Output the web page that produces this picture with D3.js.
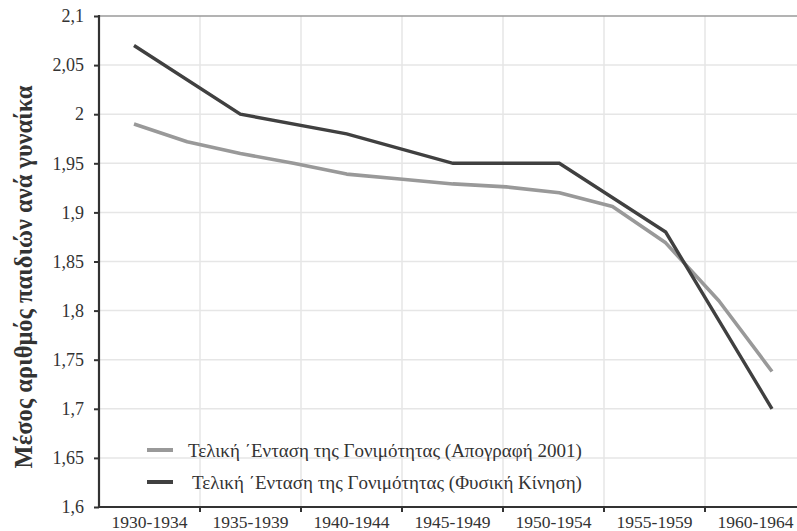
<!DOCTYPE html>
<html>
<head>
<meta charset="utf-8">
<script src="https://cdn.jsdelivr.net/npm/d3@7"></script>
<style>
  body { margin: 0; background: #fff; }
  svg { display: block; font-family: "Liberation Serif", "Times New Roman", "DejaVu Serif", serif; }
</style>
</head>
<body>
<div id="chart"></div>
<script>
// cohort groups on the x axis
var categories = ['1930-1934', '1935-1939', '1940-1944', '1945-1949', '1950-1954', '1955-1959', '1960-1964'];

// natural movement series, one value per cohort group (mid year)
var vitalYears = [1932, 1937, 1942, 1947, 1952, 1957, 1962];
var vitalValues = [2.07, 2.00, 1.98, 1.95, 1.95, 1.88, 1.70];

// census 2001 series, read every half group
var censusYears = [1932, 1934.5, 1937, 1939.5, 1942, 1944.5, 1947, 1949.5, 1952, 1954.5, 1957, 1959.5, 1962];
var censusValues = [1.99, 1.972, 1.96, 1.950, 1.939, 1.934, 1.929, 1.926, 1.920, 1.906, 1.869, 1.810, 1.738];

var yTicks = [1.6, 1.65, 1.7, 1.75, 1.8, 1.85, 1.9, 1.95, 2, 2.05, 2.1];

var seriesNames = [
    'Τελική ΄Ενταση της Γονιμότητας (Απογραφή 2001)',
    'Τελική ΄Ενταση της Γονιμότητας (Φυσική Κίνηση)'
];

var width = 797,
    height = 531;

var plot = { left: 99, right: 806, top: 16, bottom: 507 };
var serif = '"Liberation Serif", "Times New Roman", serif';

var svg = d3.select('#chart').append('svg')
    .attr('width', width)
    .attr('height', height);

var x = d3.scaleBand()
    .domain(categories)
    .range([plot.left, plot.right]);

var xYear = d3.scaleLinear()
    .domain([1932, 1962])
    .range([134, 772]);

var y = d3.scaleLinear()
    .domain([1.6, 2.1])
    .range([plot.bottom, plot.top]);

// grid
var grid = svg.append('g');

grid.selectAll('line.h')
    .data(yTicks.slice(1, -1))
    .enter().append('line')
    .attr('class', 'h')
    .attr('x1', plot.left)
    .attr('x2', plot.right)
    .attr('y1', function(d) { return y(d); })
    .attr('y2', function(d) { return y(d); })
    .attr('stroke', '#e6e6e6')
    .attr('stroke-width', 1.5);

grid.selectAll('line.v')
    .data(categories.slice(1))
    .enter().append('line')
    .attr('class', 'v')
    .attr('x1', function(d) { return x(d); })
    .attr('x2', function(d) { return x(d); })
    .attr('y1', plot.top)
    .attr('y2', plot.bottom)
    .attr('stroke', '#e6e6e6')
    .attr('stroke-width', 1.5);

// top border
svg.append('line')
    .attr('x1', plot.left)
    .attr('x2', plot.right)
    .attr('y1', y(2.1))
    .attr('y2', y(2.1))
    .attr('stroke', '#9a9a9a')
    .attr('stroke-width', 1.5);

// lines
var line = d3.line()
    .x(function(d) { return xYear(d[0]); })
    .y(function(d) { return y(d[1]); });

svg.append('path')
    .datum(d3.zip(censusYears, censusValues))
    .attr('fill', 'none')
    .attr('stroke', '#999999')
    .attr('stroke-width', 3.6)
    .attr('stroke-linejoin', 'round')
    .attr('d', line);

svg.append('path')
    .datum(d3.zip(vitalYears, vitalValues))
    .attr('fill', 'none')
    .attr('stroke', '#404040')
    .attr('stroke-width', 3.4)
    .attr('d', line);

// axes
var yAxis = d3.axisLeft(y)
    .tickValues(yTicks)
    .tickSize(5)
    .tickPadding(10)
    .tickFormat(function(d) { return String(d).replace('.', ','); });

var gy = svg.append('g')
    .attr('transform', 'translate(' + plot.left + ',0)')
    .call(yAxis);

gy.select('.domain').remove();
gy.append('line')
    .attr('y1', plot.top - 1)
    .attr('y2', plot.bottom + 1)
    .attr('stroke', '#333')
    .attr('stroke-width', 2.2);
gy.selectAll('.tick line').attr('stroke', '#333').attr('stroke-width', 2);
gy.selectAll('.tick text')
    .attr('fill', '#333')
    .style('font-size', '18px')
    .style('font-family', serif);

var xAxis = d3.axisBottom(x)
    .tickSize(0)
    .tickPadding(9);

var gx = svg.append('g')
    .attr('transform', 'translate(0,' + plot.bottom + ')')
    .call(xAxis);

gx.select('.domain').remove();
gx.append('line')
    .attr('x1', plot.left - 1)
    .attr('x2', plot.right)
    .attr('stroke', '#333')
    .attr('stroke-width', 2.2);
gx.selectAll('.tick text')
    .attr('fill', '#333')
    .style('font-size', '17.5px')
    .style('font-family', serif);

gx.selectAll('line.b')
    .data(categories.slice(1))
    .enter().append('line')
    .attr('class', 'b')
    .attr('x1', function(d) { return x(d); })
    .attr('x2', function(d) { return x(d); })
    .attr('y1', 0)
    .attr('y2', 5)
    .attr('stroke', '#333')
    .attr('stroke-width', 2);

// y title
svg.append('text')
    .attr('transform', 'translate(32,277) rotate(-90)')
    .attr('text-anchor', 'middle')
    .attr('fill', '#333')
    .style('font-size', '24.5px')
    .style('font-weight', 'bold')
    .style('font-family', serif)
    .text('Μέσος αριθμός παιδιών ανά γυναίκα');

// legend
var legend = svg.append('g');
var legendColors = ['#999999', '#404040'];
var legendRows = [450, 482];
var legendText = [188, 192];

seriesNames.forEach(function(n, i) {
    legend.append('line')
        .attr('x1', 147)
        .attr('x2', 173)
        .attr('y1', legendRows[i])
        .attr('y2', legendRows[i])
        .attr('stroke', legendColors[i])
        .attr('stroke-width', 4);
    legend.append('text')
        .attr('x', legendText[i])
        .attr('y', legendRows[i])
        .attr('dy', '0.35em')
        .attr('fill', '#333')
        .style('font-size', '19px')
        .style('font-family', serif)
        .text(n);
});
</script>
</body>
</html>
